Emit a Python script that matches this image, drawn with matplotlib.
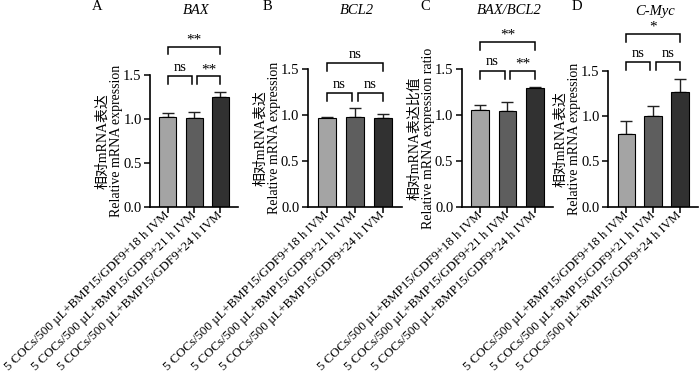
import matplotlib
matplotlib.use('Agg')
from matplotlib import pyplot as plt

plt.rcParams['font.family'] = ['Liberation Serif', 'Noto Sans CJK SC']
plt.rcParams['axes.unicode_minus'] = False

# data
groups = ['5 COCs/500 µL+BMP15/GDF9+18 h IVM',
          '5 COCs/500 µL+BMP15/GDF9+21 h IVM',
          '5 COCs/500 µL+BMP15/GDF9+24 h IVM']
letters = ['A', 'B', 'C', 'D']
genes = ['BAX', 'BCL2', 'BAX/BCL2', 'C-Myc']
ylabels = ['相对mRNA表达\nRelative mRNA expression',
           '相对mRNA表达\nRelative mRNA expression',
           '相对mRNA表达比值\nRelative mRNA expression ratio',
           '相对mRNA表达\nRelative mRNA expression']
bax = [1.02, 1.01, 1.25]
bax_err = [0.045, 0.07, 0.06]
bcl2 = [0.97, 0.98, 0.97]
bcl2_err = [0.005, 0.095, 0.045]
ratio = [1.055, 1.04, 1.30]
ratio_err = [0.05, 0.105, 0.01]
cmyc = [0.80, 1.00, 1.26]
cmyc_err = [0.15, 0.11, 0.15]
# significance: (1 vs 2, 2 vs 3, 1 vs 3)
sig_bax = ['ns', '**', '**']
sig_bcl2 = ['ns', 'ns', 'ns']
sig_ratio = ['ns', '**', '**']
sig_cmyc = ['ns', 'ns', '*']

means = [bax, bcl2, ratio, cmyc]
errs = [bax_err, bcl2_err, ratio_err, cmyc_err]
sigs = [sig_bax, sig_bcl2, sig_ratio, sig_cmyc]

colors = ['#a4a4a4', '#5e5e5e', '#313131']

# layout (pixels of a 700x381 canvas)
W, H = 700, 381
boxes = [(150, 75, 238, 206.7), (307.7, 69.3, 401.5, 206.7),
         (461.7, 69.3, 553, 206.7), (608, 70.7, 698, 206.7)]
letter_x = [97, 267, 425, 577]
bracket_lo = [1.483, 1.238, 1.483, 1.593]
bracket_hi = [1.82, 1.565, 1.80, 1.905]

fig = plt.figure(figsize=(7, 3.81), dpi=100)

for i in range(4):
    x0, y0, x1, y1 = boxes[i]
    ax = fig.add_axes([x0 / W, 1 - y1 / H, (x1 - x0) / W, (y1 - y0) / H])
    xs = range(len(groups))
    ax.bar(xs, means[i], width=0.65, color=colors, edgecolor='black', linewidth=0.8, zorder=2)
    ax.errorbar(xs, means[i], yerr=[[0, 0, 0], errs[i]], fmt='none', ecolor='#222222',
                elinewidth=1, capsize=4, capthick=1, zorder=1)
    ax.set_xlim(-0.68, 2.67)
    ax.set_ylim(0, 1.5)
    ax.set_yticks([0, 0.5, 1.0, 1.5])
    ax.set_yticklabels(['0.0', '0.5', '1.0', '1.5'])
    ax.set_xticks(list(xs))
    ax.set_xticklabels(groups, rotation=44, ha='right', va='center', rotation_mode='anchor',
                       fontsize=9.3)
    for s in ['top', 'right']:
        ax.spines[s].set_visible(False)
    for s in ['left', 'bottom']:
        ax.spines[s].set_linewidth(1.2)
    ax.tick_params(axis='y', length=4, width=1.1, labelsize=10.5, pad=2)
    ax.tick_params(axis='x', length=4, width=1.1, pad=1)
    ax.set_ylabel(ylabels[i], fontsize=10, linespacing=1.05, labelpad=0)

    # significance brackets
    lo, hi, leg = bracket_lo[i], bracket_hi[i], 0.085
    pairs = [(0, 0.9), (1.1, 2), (0, 2)]
    for k, (a, b) in enumerate(pairs):
        yb = hi if k == 2 else lo
        ax.plot([a, a, b, b], [yb - leg, yb, yb, yb - leg], color='black', lw=1.1,
                clip_on=False, solid_joinstyle='miter')
        txt = sigs[i][k]
        off = 0.03 if txt == 'ns' else 0.0
        ax.text((a + b) / 2, yb + off, txt, ha='center', va='bottom',
                fontsize=10.5 if txt == 'ns' else 11, clip_on=False)

    fig.text(((x0 + x1) / 2 + 2) / W, 1 - 11 / H, genes[i], ha='center', va='center',
             fontsize=10.5, fontstyle='italic')
    fig.text(letter_x[i] / W, 1 - 6 / H, letters[i], ha='center', va='center', fontsize=10.5)

fig.savefig('out.png', dpi=100)
